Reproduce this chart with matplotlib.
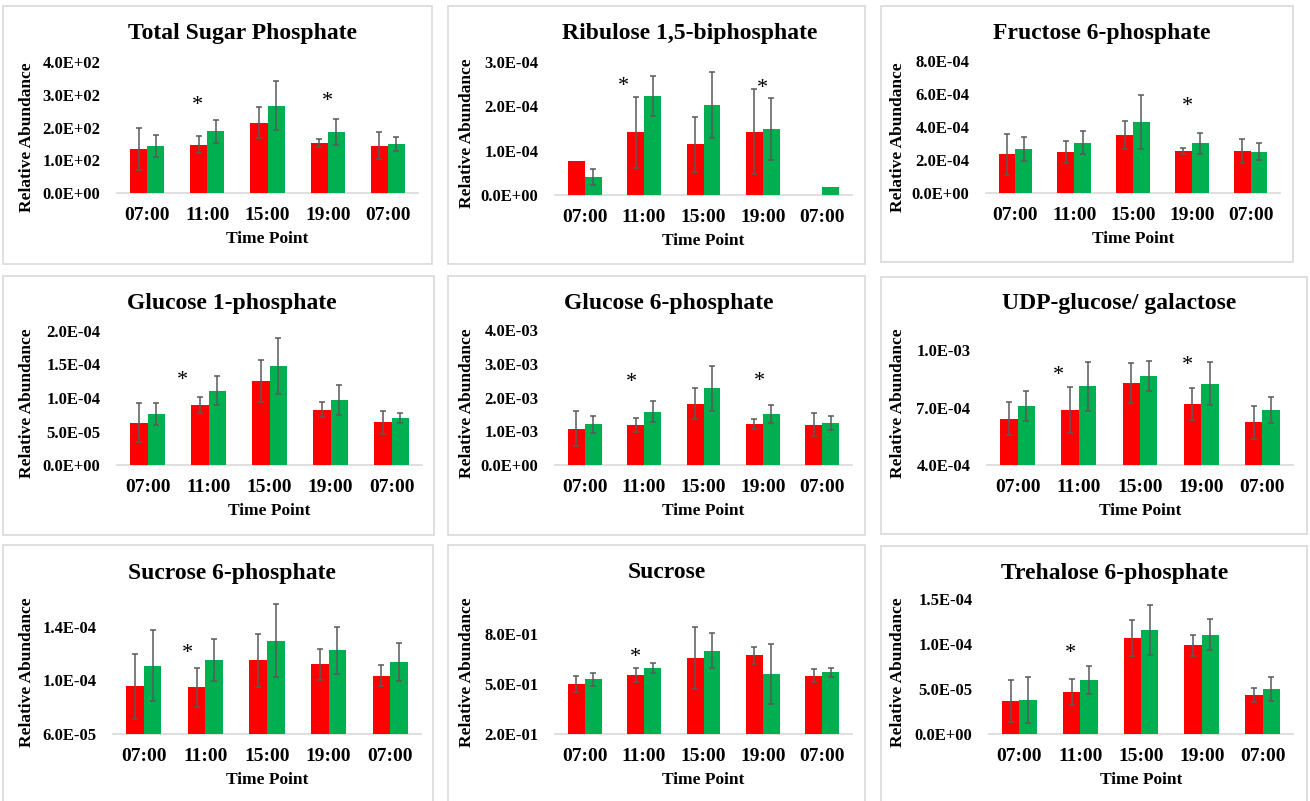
import numpy as np
import matplotlib.pyplot as plt
from matplotlib.patches import Rectangle

plt.rcParams['font.family'] = ['Liberation Serif', 'DejaVu Serif']
plt.rcParams['font.weight'] = 'bold'

W, H = 1310, 801
time_points = ['07:00', '11:00', '15:00', '19:00', '07:00']

# Total Sugar Phosphate
tsp_red = [133, 147, 215, 152, 144]
tsp_red_sd = [64, 26, 47, 12, 41]
tsp_green = [144, 189, 267, 187, 149]
tsp_green_sd = [33, 35, 74, 39, 22]
tsp_stars = [(1, 284, -0.17), (3, 295, 0.0)]

# Ribulose 1,5-biphosphate
rubp_red = [0.76e-4, 1.41e-4, 1.14e-4, 1.43e-4, 0.0]
rubp_red_sd = [np.nan, 0.81e-4, 0.61e-4, 0.95e-4, np.nan]
rubp_green = [0.41e-4, 2.24e-4, 2.03e-4, 1.49e-4, 0.19e-4]
rubp_green_sd = [0.18e-4, 0.45e-4, 0.75e-4, 0.69e-4, np.nan]
rubp_stars = [(1, 2.57e-4, -0.35), (3, 2.51e-4, 0.0)]

# Fructose 6-phosphate
f6p_red = [2.35e-4, 2.49e-4, 3.54e-4, 2.55e-4, 2.55e-4]
f6p_red_sd = [1.25e-4, 0.67e-4, 0.85e-4, 0.18e-4, 0.75e-4]
f6p_green = [2.67e-4, 3.06e-4, 4.31e-4, 3.02e-4, 2.51e-4]
f6p_green_sd = [0.73e-4, 0.71e-4, 1.62e-4, 0.64e-4, 0.53e-4]
f6p_stars = [(3, 5.53e-4, -0.08)]

# Glucose 1-phosphate
g1p_red = [0.632e-4, 0.896e-4, 1.25e-4, 0.826e-4, 0.64e-4]
g1p_red_sd = [0.29e-4, 0.12e-4, 0.31e-4, 0.11e-4, 0.17e-4]
g1p_green = [0.76e-4, 1.11e-4, 1.48e-4, 0.97e-4, 0.70e-4]
g1p_green_sd = [0.17e-4, 0.22e-4, 0.42e-4, 0.23e-4, 0.07e-4]
g1p_stars = [(1, 1.34e-4, -0.43)]

# Glucose 6-phosphate
g6p_red = [1.08e-3, 1.19e-3, 1.82e-3, 1.21e-3, 1.19e-3]
g6p_red_sd = [0.51e-3, 0.21e-3, 0.47e-3, 0.14e-3, 0.34e-3]
g6p_green = [1.21e-3, 1.58e-3, 2.27e-3, 1.51e-3, 1.25e-3]
g6p_green_sd = [0.25e-3, 0.32e-3, 0.67e-3, 0.27e-3, 0.20e-3]
g6p_stars = [(1, 2.59e-3, -0.22), (3, 2.64e-3, -0.05)]

# UDP-glucose/ galactose
udp_red = [6.42e-4, 6.87e-4, 8.28e-4, 7.18e-4, 6.24e-4]
udp_red_sd = [0.85e-4, 1.18e-4, 1.04e-4, 0.85e-4, 0.86e-4]
udp_green = [7.10e-4, 8.10e-4, 8.64e-4, 8.24e-4, 6.87e-4]
udp_green_sd = [0.78e-4, 1.29e-4, 0.79e-4, 1.13e-4, 0.66e-4]
udp_stars = [(1, 8.92e-4, -0.34), (3, 9.44e-4, -0.23)]

# Sucrose 6-phosphate
s6p_red = [9.55e-5, 9.48e-5, 11.49e-5, 11.19e-5, 10.35e-5]
s6p_red_sd = [2.41e-5, 1.44e-5, 1.96e-5, 1.17e-5, 0.77e-5]
s6p_green = [11.09e-5, 11.54e-5, 12.96e-5, 12.26e-5, 11.34e-5]
s6p_green_sd = [2.64e-5, 1.57e-5, 2.73e-5, 1.76e-5, 1.42e-5]
s6p_stars = [(1, 12.41e-5, -0.29)]

# Sucrose
suc_red = [0.502, 0.554, 0.656, 0.670, 0.550]
suc_red_sd = [0.048, 0.042, 0.184, 0.052, 0.036]
suc_green = [0.528, 0.596, 0.698, 0.558, 0.568]
suc_green_sd = [0.038, 0.030, 0.104, 0.180, 0.026]
suc_stars = [(1, 0.686, -0.14)]

# Trehalose 6-phosphate
t6p_red = [3.67e-5, 4.67e-5, 10.67e-5, 9.85e-5, 4.30e-5]
t6p_red_sd = [2.30e-5, 1.44e-5, 1.96e-5, 1.19e-5, 0.77e-5]
t6p_green = [3.74e-5, 6.00e-5, 11.56e-5, 11.04e-5, 5.00e-5]
t6p_green_sd = [2.56e-5, 1.59e-5, 2.74e-5, 1.74e-5, 1.37e-5]
t6p_stars = [(1, 9.56e-5, -0.16)]

panels = [
    dict(title='Total Sugar Phosphate', red=tsp_red, red_sd=tsp_red_sd,
         green=tsp_green, green_sd=tsp_green_sd, stars=tsp_stars,
         ylim=(0, 400), ticks=[0, 100, 200, 300, 400],
         box=(3, 432, 6, 264), ax=(117, 418, 62, 193), title_xy=(242, 33), ylab_xy=(27, 137)),
    dict(title='Ribulose 1,5-biphosphate', red=rubp_red, red_sd=rubp_red_sd,
         green=rubp_green, green_sd=rubp_green_sd, stars=rubp_stars,
         ylim=(0, 3e-4), ticks=[0, 1e-4, 2e-4, 3e-4],
         box=(448, 865, 6, 264), ax=(555, 852, 62, 195), title_xy=(690, 33), ylab_xy=(467, 133)),
    dict(title='Fructose 6-phosphate', red=f6p_red, red_sd=f6p_red_sd,
         green=f6p_green, green_sd=f6p_green_sd, stars=f6p_stars,
         ylim=(0, 8e-4), ticks=[0, 2e-4, 4e-4, 6e-4, 8e-4],
         box=(881, 1293, 6, 262), ax=(986, 1280, 61, 193), title_xy=(1102, 33), ylab_xy=(898, 137)),
    dict(title='Glucose 1-phosphate', red=g1p_red, red_sd=g1p_red_sd,
         green=g1p_green, green_sd=g1p_green_sd, stars=g1p_stars,
         ylim=(0, 2e-4), ticks=[0, 5e-5, 1e-4, 1.5e-4, 2e-4],
         box=(3, 434, 276, 535), ax=(117, 422, 331, 465), title_xy=(232, 303), ylab_xy=(27, 403)),
    dict(title='Glucose 6-phosphate', red=g6p_red, red_sd=g6p_red_sd,
         green=g6p_green, green_sd=g6p_green_sd, stars=g6p_stars,
         ylim=(0, 4e-3), ticks=[0, 1e-3, 2e-3, 3e-3, 4e-3],
         box=(448, 865, 276, 535), ax=(555, 852, 330, 465), title_xy=(669, 303), ylab_xy=(467, 403)),
    dict(title='UDP-glucose/ galactose', red=udp_red, red_sd=udp_red_sd,
         green=udp_green, green_sd=udp_green_sd, stars=udp_stars,
         ylim=(4e-4, 1e-3), ticks=[4e-4, 7e-4, 1e-3],
         box=(881, 1307, 277, 534), ax=(987, 1293, 350, 465), title_xy=(1119, 303), ylab_xy=(898, 403)),
    dict(title='Sucrose 6-phosphate', red=s6p_red, red_sd=s6p_red_sd,
         green=s6p_green, green_sd=s6p_green_sd, stars=s6p_stars,
         ylim=(6e-5, 1.6e-4), ticks=[6e-5, 1e-4, 1.4e-4],
         box=(3, 433, 545, 810), ax=(113, 421, 600, 734), title_xy=(232, 573), ylab_xy=(27, 672)),
    dict(title='Sucrose', red=suc_red, red_sd=suc_red_sd,
         green=suc_green, green_sd=suc_green_sd, stars=suc_stars,
         ylim=(0.2, 0.9), ticks=[0.2, 0.5, 0.8],
         box=(448, 865, 545, 810), ax=(555, 852, 617, 734), title_xy=(667, 573), ylab_xy=(467, 672)),
    dict(title='Trehalose 6-phosphate', red=t6p_red, red_sd=t6p_red_sd,
         green=t6p_green, green_sd=t6p_green_sd, stars=t6p_stars,
         ylim=(0, 1.5e-4), ticks=[0, 5e-5, 1e-4, 1.5e-4],
         box=(881, 1307, 546, 810), ax=(989, 1293, 599, 734), title_xy=(1115, 573), ylab_xy=(898, 672)),
]

RED = '#FF0000'
GREEN = '#00B050'
ERR = '#595959'
BORDER = '#D9D9D9'
bar_w = 0.285

fig = plt.figure(figsize=(W / 100, H / 100), dpi=100)
fig.patch.set_facecolor('white')

x = np.arange(len(time_points))
for p in panels:
    # panel frame
    l, r, t, b = p['box']
    fig.patches.append(Rectangle((l / W, 1 - b / H), (r - l) / W, (b - t) / H,
                                 transform=fig.transFigure, fill=False,
                                 edgecolor=BORDER, linewidth=1.2))

    al, ar, at, ab = p['ax']
    ax = fig.add_axes([al / W, 1 - ab / H, (ar - al) / W, (ab - at) / H])
    ax.bar(x - bar_w / 2, p['red'], bar_w, color=RED, zorder=2)
    ax.bar(x + bar_w / 2, p['green'], bar_w, color=GREEN, zorder=2)
    ax.errorbar(x - bar_w / 2, p['red'], yerr=p['red_sd'], fmt='none', ecolor=ERR,
                elinewidth=1.1, capsize=2.2, capthick=1.1, zorder=3)
    ax.errorbar(x + bar_w / 2, p['green'], yerr=p['green_sd'], fmt='none', ecolor=ERR,
                elinewidth=1.1, capsize=2.2, capthick=1.1, zorder=3)

    for idx, yv, dx in p['stars']:
        ax.annotate('*', (idx + dx, yv), xytext=(0, -7), textcoords='offset points',
                    ha='center', va='baseline', fontsize=16, fontweight='normal')

    ax.set_xlim(-0.5, len(time_points) - 0.5)
    ax.set_ylim(*p['ylim'])
    ax.set_yticks(p['ticks'])
    ax.set_yticklabels(['{:.1E}'.format(v) for v in p['ticks']])
    ax.set_xticks(x)
    ax.set_xticklabels(time_points)
    ax.tick_params(axis='x', length=0, pad=10, labelsize=14)
    ax.tick_params(axis='y', length=0, pad=12, labelsize=12)
    ax.set_xlabel('Time Point', fontsize=12.5, fontweight='bold', labelpad=5)
    for s in ['top', 'right', 'left']:
        ax.spines[s].set_visible(False)
    ax.spines['bottom'].set_color(BORDER)
    ax.spines['bottom'].set_linewidth(1.2)
    ax.spines['bottom'].set_zorder(1)
    ax.set_facecolor('none')

    tx, ty = p['title_xy']
    fig.text(tx / W, 1 - ty / H, p['title'], ha='center', va='center', fontsize=17)
    lx, ly = p['ylab_xy']
    fig.text(lx / W, 1 - ly / H, 'Relative Abundance', ha='center', va='center',
             rotation=90, fontsize=12.5)

fig.savefig('out.png', dpi=100, facecolor='white')
